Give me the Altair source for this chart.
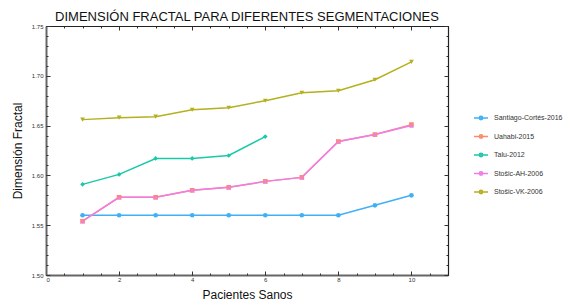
import altair as alt
import pandas as pd

# ---- data ----
series_names = ["Santiago-Cortés-2016", "Uahabi-2015", "Talu-2012", "Stošic-AH-2006", "Stošic-VK-2006"]
x_all = [1, 2, 3, 4, 5, 6, 7, 8, 9, 10]
santiago = [1.560, 1.560, 1.560, 1.560, 1.560, 1.560, 1.560, 1.560, 1.570, 1.580]
uahabi = [1.554, 1.578, 1.578, 1.585, 1.588, 1.594, 1.598, 1.634, 1.641, 1.651]
talu = [1.591, 1.601, 1.617, 1.617, 1.620, 1.639]
stosic_ah = [1.554, 1.578, 1.578, 1.585, 1.588, 1.594, 1.598, 1.634, 1.641, 1.650]
stosic_vk = [1.656, 1.658, 1.659, 1.666, 1.668, 1.675, 1.683, 1.685, 1.696, 1.714]

series_values = [santiago, uahabi, talu, stosic_ah, stosic_vk]
colors = ["#3fb0f6", "#fa8c6c", "#19c9a7", "#f07ce8", "#b4b01e"]
shapes = ["circle", "square", "diamond", "triangle-up", "triangle-down"]

x_major = [0, 2, 4, 6, 8, 10]
x_minor = [i * 0.5 for i in range(0, 23)]
y_major = [1.50, 1.55, 1.60, 1.65, 1.70, 1.75]
y_minor = [round(1.50 + i * 0.01, 2) for i in range(0, 26)]

rows = []
for name, vals in zip(series_names, series_values):
    for xv, yv in zip(x_all, vals):
        rows.append({"serie": name, "x": xv, "y": yv})
df = pd.DataFrame(rows)

W, H = 402, 249
FONT = "Liberation Sans"

xscale = alt.Scale(domain=[0, 11], nice=False, zero=False)
yscale = alt.Scale(domain=[1.50, 1.75], nice=False, zero=False)
cscale = alt.Scale(domain=series_names, range=colors)

legend_symbol = "M-1,0H1M-0.24,0A0.24,0.24,0,1,0,0.24,0A0.24,0.24,0,1,0,-0.24,0"

base = alt.Chart(df)

lines = base.mark_line(strokeWidth=1.5).encode(
    x=alt.X("x:Q", scale=xscale, axis=alt.Axis(
        orient="bottom", values=x_major, format="d", ticks=False, grid=False,
        domainColor="#666666", domainWidth=2, labelFontSize=6, labelFont=FONT,
        labelColor="#333333", labelPadding=1, title="Pacientes Sanos",
        titleFontSize=12, titleFont=FONT, titleFontWeight="normal",
        titleColor="#111111", titlePadding=7)),
    y=alt.Y("y:Q", scale=yscale, axis=alt.Axis(
        orient="left", values=y_major, format=".2f", ticks=False, grid=False,
        domainColor="#666666", domainWidth=2, labelFontSize=6, labelFont=FONT,
        labelColor="#333333", labelPadding=3, title="Dimensión Fractal",
        titleFontSize=12, titleFont=FONT, titleFontWeight="normal",
        titleColor="#111111", titlePadding=7)),
    color=alt.Color("serie:N", scale=cscale, legend=alt.Legend(
        title=None, orient="none", legendX=427, legendY=84,
        symbolType=legend_symbol, symbolSize=196, symbolStrokeWidth=1.5,
        labelFontSize=7, labelFont=FONT, labelColor="#333333",
        labelOffset=5, rowPadding=5.5, padding=0)),
    detail="serie:N",
)

point_layers = []
for name, col, shp in zip(series_names, colors, shapes):
    point_layers.append(
        base.transform_filter(alt.datum.serie == name)
        .mark_point(filled=True, size=22, opacity=1, color=col, shape=shp)
        .encode(
            x=alt.X("x:Q", scale=xscale, axis=None),
            y=alt.Y("y:Q", scale=yscale, axis=None),
        )
    )


def tick_layer(xorient, yorient, xvals, yvals, size, xoff, yoff, domain=False, ticks=True):
    common = dict(labels=False, grid=False, title=None, ticks=ticks,
                  tickSize=size, tickColor="#333333", tickWidth=1,
                  domain=domain, domainColor="#222222", domainWidth=1.2)
    return base.mark_point(opacity=0).encode(
        x=alt.X("x:Q", scale=xscale, axis=alt.Axis(orient=xorient, values=xvals, offset=xoff, **common)),
        y=alt.Y("y:Q", scale=yscale, axis=alt.Axis(orient=yorient, values=yvals, offset=yoff, **common)),
    )


layers = [
    lines,
    *point_layers,
    # inward ticks on bottom / left
    tick_layer("top", "right", x_major, y_major, 4, -H, -W),
    tick_layer("top", "right", x_minor, y_minor, 2, -H, -W),
    # inward ticks on top / right
    tick_layer("bottom", "left", x_major, y_major, 4, -H, -W),
    tick_layer("bottom", "left", x_minor, y_minor, 2, -H, -W),
    # top / right frame lines
    tick_layer("top", "right", x_major, y_major, 0, 0, 0, domain=True, ticks=False),
]

chart = alt.layer(*layers).resolve_axis(
    x="independent", y="independent"
).resolve_scale(x="shared", y="shared").properties(
    width=W, height=H,
    title=alt.TitleParams(
        text="DIMENSIÓN FRACTAL PARA DIFERENTES SEGMENTACIONES",
        fontSize=13, font=FONT, fontWeight="normal", color="#111111",
        anchor="middle", offset=5, dy=6),
    autosize=alt.AutoSizeParams(type="none"),
    padding={"left": 38, "top": 18, "right": 115, "bottom": 33},
).configure_view(stroke=None).configure(background="white")

chart.save("out.html", embed_options={"renderer": "svg", "actions": False})
